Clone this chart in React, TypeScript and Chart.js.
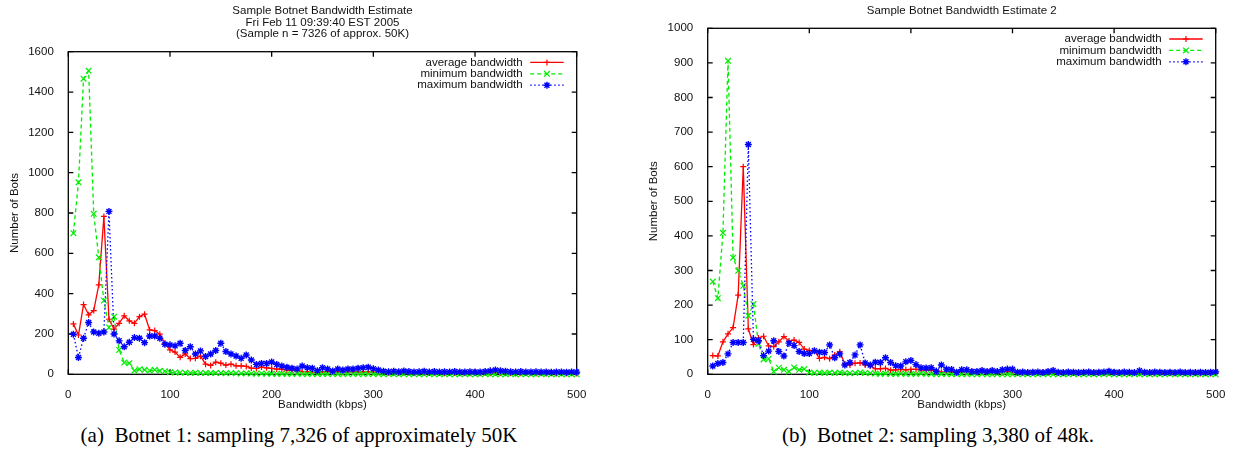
import React, { useEffect, useRef } from "react";
import { Chart, registerables } from "chart.js";

Chart.register(...registerables);

// ---------- data ----------
const KBPS = [
  5, 10, 15, 20, 25, 30, 35, 40, 45, 50,
  55, 60, 65, 70, 75, 80, 85, 90, 95, 100,
  105, 110, 115, 120, 125, 130, 135, 140, 145, 150,
  155, 160, 165, 170, 175, 180, 185, 190, 195, 200,
  205, 210, 215, 220, 225, 230, 235, 240, 245, 250,
  255, 260, 265, 270, 275, 280, 285, 290, 295, 300,
  305, 310, 315, 320, 325, 330, 335, 340, 345, 350,
  355, 360, 365, 370, 375, 380, 385, 390, 395, 400,
  405, 410, 415, 420, 425, 430, 435, 440, 445, 450,
  455, 460, 465, 470, 475, 480, 485, 490, 495, 500,
];

const AVG_1 = [
  250, 195, 346, 295, 316, 444, 783, 273, 224, 253,
  290, 265, 253, 286, 298, 220, 217, 199, 154, 121,
  110, 84, 101, 78, 79, 90, 50, 44, 60, 55,
  46, 50, 42, 42, 39, 31, 29, 36, 32, 29,
  26, 25, 21, 21, 21, 14, 13, 11, 13, 12,
  14, 11, 12, 10, 12, 13, 11, 12, 13, 11,
  10, 9, 8, 8, 7, 8, 6, 7, 6, 7,
  6, 8, 6, 5, 7, 6, 5, 6, 5, 7,
  5, 6, 5, 7, 6, 5, 6, 4, 5, 6,
  5, 4, 5, 4, 5, 4, 5, 4, 5, 4,
];
const MIN_1 = [
  700, 952, 1466, 1505, 796, 580, 366, 232, 286, 121,
  58, 55, 18, 25, 22, 18, 22, 17, 15, 10,
  9, 8, 8, 7, 8, 7, 6, 7, 6, 6,
  5, 6, 5, 4, 5, 4, 3, 4, 3, 3,
  2, 3, 2, 2, 3, 2, 1, 2, 1, 2,
  1, 1, 2, 1, 1, 1, 1, 1, 1, 1,
  1, 0, 1, 1, 0, 1, 0, 1, 0, 0,
  1, 0, 0, 1, 0, 0, 0, 1, 0, 0,
  0, 1, 0, 0, 0, 0, 1, 0, 0, 0,
  0, 0, 1, 0, 0, 0, 0, 0, 0, 0,
];
const MAX_1 = [
  199, 83, 179, 257, 210, 204, 210, 808, 200, 166,
  137, 159, 182, 179, 157, 190, 190, 179, 149, 146,
  141, 154, 118, 137, 101, 116, 88, 101, 118, 154,
  113, 101, 91, 79, 96, 71, 49, 54, 54, 61,
  49, 41, 35, 30, 26, 41, 33, 30, 18, 33,
  26, 16, 26, 21, 26, 26, 30, 33, 35, 28,
  21, 15, 13, 15, 13, 16, 14, 12, 13, 15,
  12, 14, 11, 13, 12, 14, 11, 12, 13, 11,
  12, 14, 17, 21, 18, 15, 13, 12, 14, 11,
  12, 13, 11, 12, 10, 12, 11, 10, 12, 11,
];

const AVG_2 = [
  54, 53, 94, 117, 135, 229, 600, 131, 86, 105,
  110, 82, 80, 94, 109, 96, 99, 92, 73, 69,
  68, 46, 49, 45, 56, 65, 30, 27, 32, 33,
  27, 25, 16, 16, 17, 12, 13, 14, 13, 14,
  14, 13, 12, 12, 10, 6, 8, 7, 6, 8,
  6, 7, 5, 6, 7, 5, 6, 5, 7, 6,
  4, 5, 4, 5, 4, 6, 4, 5, 4, 3,
  5, 4, 3, 4, 5, 3, 4, 3, 4, 3,
  4, 3, 3, 4, 3, 4, 3, 2, 3, 4,
  3, 2, 3, 3, 2, 3, 2, 3, 2, 3,
];
const MIN_2 = [
  268, 220, 409, 906, 337, 299, 256, 169, 203, 88,
  43, 45, 8, 19, 13, 8, 20, 13, 15, 5,
  4, 5, 4, 5, 4, 5, 4, 3, 4, 5,
  4, 3, 2, 1, 2, 1, 1, 2, 1, 1,
  1, 2, 1, 1, 0, 1, 1, 0, 1, 0,
  1, 0, 0, 1, 0, 0, 1, 0, 0, 0,
  1, 0, 0, 0, 0, 1, 0, 0, 0, 0,
  0, 1, 0, 0, 0, 0, 0, 1, 0, 0,
  0, 0, 0, 1, 0, 0, 0, 0, 0, 0,
  1, 0, 0, 0, 0, 0, 0, 0, 0, 0,
];
const MAX_2 = [
  24, 31, 34, 59, 92, 92, 92, 664, 101, 97,
  54, 67, 97, 66, 53, 90, 83, 66, 60, 60,
  68, 64, 63, 85, 48, 59, 27, 34, 56, 85,
  33, 27, 35, 34, 48, 34, 25, 24, 36, 40,
  28, 19, 18, 19, 9, 27, 15, 14, 6, 13,
  13, 8, 8, 11, 8, 11, 8, 13, 15, 15,
  6, 7, 5, 6, 7, 5, 8, 11, 6, 5,
  7, 6, 5, 6, 7, 5, 6, 7, 9, 6,
  5, 7, 6, 5, 10, 6, 5, 7, 6, 5,
  6, 5, 7, 5, 6, 5, 6, 5, 6, 7,
];

const SERIES_LABELS = ["average bandwidth", "minimum bandwidth", "maximum bandwidth"];
const TITLE_1 = [
  "Sample Botnet Bandwidth Estimate",
  "Fri Feb 11 09:39:40 EST 2005",
  "(Sample n = 7326 of approx. 50K)",
];
const TITLE_2 = ["Sample Botnet Bandwidth Estimate 2"];
const X_TITLE = "Bandwidth (kbps)";
const Y_TITLE = "Number of Bots";
const X_TICKS = [0, 100, 200, 300, 400, 500];
const Y_TICKS_1 = [0, 200, 400, 600, 800, 1000, 1200, 1400, 1600];
const Y_TICKS_2 = [0, 100, 200, 300, 400, 500, 600, 700, 800, 900, 1000];
const CAPTIONS = [
  "(a)\u2002Botnet 1: sampling 7,326 of approximately 50K",
  "(b)\u2002Botnet 2: sampling 3,380 of 48k.",
];

// ---------- styling ----------
const W = 617;
const H = 420;
const FONT_FAMILY = "'Liberation Sans', Arial, Helvetica, sans-serif";
const FS = 11.5;
const TEXT = "#111";

function drawMarker(ctx: CanvasRenderingContext2D, style: string, x: number, y: number, r: number) {
  ctx.beginPath();
  if (style === "cross" || style === "star") {
    ctx.moveTo(x - r, y);
    ctx.lineTo(x + r, y);
    ctx.moveTo(x, y - r);
    ctx.lineTo(x, y + r);
  }
  if (style === "crossRot" || style === "star") {
    const d = r * Math.SQRT1_2;
    ctx.moveTo(x - d, y - d);
    ctx.lineTo(x + d, y + d);
    ctx.moveTo(x - d, y + d);
    ctx.lineTo(x + d, y - d);
  }
  ctx.stroke();
}

const framePlugin = {
  id: "gnuFrame",
  beforeDatasetsDraw(chart: any) {
    const { ctx, chartArea } = chart;
    const { left, right, top, bottom } = chartArea;
    const xs = chart.scales.x;
    const ys = chart.scales.y;
    const tl = 5;
    ctx.save();
    ctx.strokeStyle = "#000";
    ctx.lineWidth = 1.3;
    ctx.setLineDash([]);
    ctx.strokeRect(left, top, right - left, bottom - top);
    ctx.beginPath();
    for (const t of ys.ticks) {
      const py = ys.getPixelForValue(t.value);
      ctx.moveTo(left, py);
      ctx.lineTo(left + tl, py);
      ctx.moveTo(right, py);
      ctx.lineTo(right - tl, py);
    }
    for (const t of xs.ticks) {
      const px = xs.getPixelForValue(t.value);
      ctx.moveTo(px, bottom);
      ctx.lineTo(px, bottom - tl);
      ctx.moveTo(px, top);
      ctx.lineTo(px, top + tl);
    }
    ctx.stroke();
    ctx.restore();
  },
};

const keyPlugin = {
  id: "gnuKey",
  afterDatasetsDraw(chart: any) {
    const { ctx, chartArea } = chart;
    const { right, top } = chartArea;
    const textRight = right - 54;
    const s0 = right - 46.5;
    const s1 = right - 13;
    ctx.save();
    ctx.font = `${FS}px ${FONT_FAMILY}`;
    ctx.textAlign = "right";
    ctx.textBaseline = "middle";
    chart.data.datasets.forEach((ds: any, i: number) => {
      const y = top + 10.7 + i * 11.4;
      ctx.fillStyle = TEXT;
      ctx.fillText(ds.label, textRight, y);
      ctx.strokeStyle = ds.borderColor;
      ctx.lineWidth = ds.borderWidth;
      ctx.setLineDash(ds.borderDash || []);
      ctx.beginPath();
      ctx.moveTo(s0, y);
      ctx.lineTo(s1, y);
      ctx.stroke();
      ctx.setLineDash([]);
      ctx.lineWidth = ds.pointBorderWidth;
      drawMarker(ctx, ds.pointStyle, (s0 + s1) / 2, y, ds.pointRadius);
    });
    ctx.restore();
  },
};

type Area = { left: number; right: number; top: number; bottom: number };

function buildConfig(
  title: string[],
  avg: number[],
  min: number[],
  max: number[],
  yTicks: number[],
  area: Area,
  yTitleCenter: number
): any {
  const font = { family: FONT_FAMILY, size: FS, lineHeight: 1.2 };
  const titleLine = FS;
  return {
    type: "line",
    data: {
      datasets: [
        {
          label: SERIES_LABELS[0],
          data: KBPS.map((x, i) => ({ x, y: avg[i] })),
          borderColor: "#ff0000",
          backgroundColor: "#ff0000",
          borderWidth: 1.3,
          pointStyle: "cross",
          pointRadius: 3,
          pointBorderWidth: 1.2,
          tension: 0,
          clip: false,
          order: 2,
        },
        {
          label: SERIES_LABELS[1],
          data: KBPS.map((x, i) => ({ x, y: min[i] })),
          borderColor: "#00ee00",
          backgroundColor: "#00ee00",
          borderWidth: 1.3,
          borderDash: [4, 3],
          pointStyle: "crossRot",
          pointRadius: 4,
          pointBorderWidth: 1.2,
          tension: 0,
          clip: false,
          order: 1,
        },
        {
          label: SERIES_LABELS[2],
          data: KBPS.map((x, i) => ({ x, y: max[i] })),
          borderColor: "#0000ff",
          backgroundColor: "#0000ff",
          borderWidth: 1.3,
          borderDash: [1.5, 2.5],
          pointStyle: "star",
          pointRadius: 3.5,
          pointBorderWidth: 1.4,
          tension: 0,
          clip: false,
          order: 0,
        },
      ],
    },
    options: {
      animation: false,
      responsive: false,
      events: [],
      layout: { padding: { left: 0, right: W - area.right, top: 0, bottom: 0 } },
      plugins: {
        legend: { display: false },
        tooltip: { enabled: false },
        title: {
          display: true,
          text: title,
          fullSize: false,
          color: TEXT,
          font: { family: FONT_FAMILY, size: FS, weight: "normal", lineHeight: 1.0 },
          padding: { top: 5.25, bottom: area.top - 5.25 - title.length * titleLine },
        },
      },
      scales: {
        x: {
          type: "linear",
          min: 0,
          max: 500,
          grid: { display: false },
          border: { display: false },
          afterBuildTicks: (s: any) => {
            s.ticks = X_TICKS.map((v) => ({ value: v }));
          },
          afterFit: (s: any) => {
            s.height = H - area.bottom;
          },
          ticks: {
            padding: 5.5,
            color: TEXT,
            font,
            maxRotation: 0,
            autoSkip: false,
            callback: (v: any) => String(v),
          },
          title: {
            display: true,
            text: X_TITLE,
            color: TEXT,
            font,
            padding: { top: 0, bottom: 8.6 },
          },
        },
        y: {
          type: "linear",
          min: yTicks[0],
          max: yTicks[yTicks.length - 1],
          grid: { display: false },
          border: { display: false },
          afterBuildTicks: (s: any) => {
            s.ticks = yTicks.map((v) => ({ value: v }));
          },
          afterFit: (s: any) => {
            s.width = area.left;
          },
          ticks: {
            padding: 6.5,
            color: TEXT,
            font,
            autoSkip: false,
            callback: (v: any) => String(v),
          },
          title: {
            display: true,
            text: Y_TITLE,
            color: TEXT,
            font,
            padding: { top: yTitleCenter - 6.9, bottom: 0 },
          },
        },
      },
    },
    plugins: [framePlugin, keyPlugin],
  };
}

function GnuChart({ config }: { config: any }) {
  const ref = useRef<HTMLCanvasElement | null>(null);
  useEffect(() => {
    if (!ref.current) return;
    const chart = new Chart(ref.current, config);
    return () => chart.destroy();
  }, [config]);
  return (
    <canvas
      ref={ref}
      width={W}
      height={H}
      style={{ display: "block", width: W, height: H }}
    />
  );
}

const CONFIG_1 = buildConfig(
  TITLE_1,
  AVG_1,
  MIN_1,
  MAX_1,
  Y_TICKS_1,
  { left: 68.3, right: 576.7, top: 51.7, bottom: 374.3 },
  14.7
);
const CONFIG_2 = buildConfig(
  TITLE_2,
  AVG_2,
  MIN_2,
  MAX_2,
  Y_TICKS_2,
  { left: 90.7, right: 598.7, top: 28.3, bottom: 374.3 },
  37
);

const captionStyle: React.CSSProperties = {
  position: "absolute",
  top: 423,
  transform: "translateX(-50%)",
  whiteSpace: "pre",
  fontFamily: "'Liberation Serif', 'Times New Roman', serif",
  fontSize: 21,
  lineHeight: "24px",
  color: "#000",
};

export default function App() {
  return (
    <div
      style={{
        position: "absolute",
        left: 0,
        top: 0,
        width: 1234,
        height: 454,
        background: "#fff",
        overflow: "hidden",
      }}
    >
      <div style={{ position: "absolute", left: 0, top: 0 }}>
        <GnuChart config={CONFIG_1} />
      </div>
      <div style={{ position: "absolute", left: W, top: 0 }}>
        <GnuChart config={CONFIG_2} />
      </div>
      <div style={{ ...captionStyle, left: 299 }}>{CAPTIONS[0]}</div>
      <div style={{ ...captionStyle, left: 938 }}>{CAPTIONS[1]}</div>
    </div>
  );
}
